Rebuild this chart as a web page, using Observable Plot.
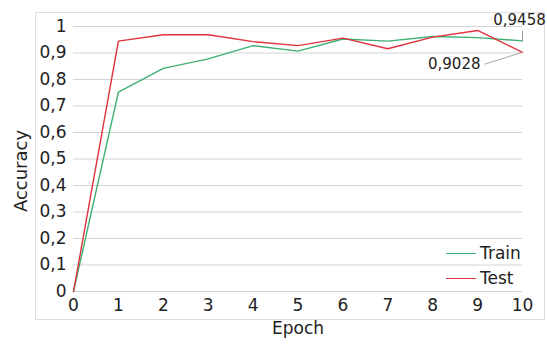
<!DOCTYPE html>
<html><head><meta charset="utf-8">
<script src="https://cdn.jsdelivr.net/npm/d3@7"></script>
<script src="https://cdn.jsdelivr.net/npm/@observablehq/plot@0.6"></script>
<style>
body{margin:0;background:#fff;font-family:"DejaVu Sans",sans-serif;}
#wrap{position:relative;width:547px;height:345px;}
.leg{position:absolute;left:446px;font-size:17px;color:#222;display:flex;align-items:center;}
.leg span.sw{display:inline-block;width:30px;height:0;border-top:1.5px solid;margin-right:4px;}
</style></head>
<body><div id="wrap"></div>
<script>
const epochs = [0,1,2,3,4,5,6,7,8,9,10];
const train = [0,0.752,0.842,0.878,0.928,0.907,0.953,0.945,0.962,0.958,0.9458];
const test  = [0,0.945,0.969,0.969,0.943,0.928,0.956,0.916,0.960,0.985,0.9028];
const yTicks = [0,0.1,0.2,0.3,0.4,0.5,0.6,0.7,0.8,0.9,1];
const xTicks = epochs;
const seriesNames = ["Train","Test"];
const colors = {Train:"#3daf72", Test:"#e0323c"};

const data = [];
epochs.forEach((e,i)=>{data.push({epoch:e,acc:train[i],s:"Train"});data.push({epoch:e,acc:test[i],s:"Test"});});
const fmt = d => String(+d.toFixed(4)).replace(".", ",");
const lastTrain = [{epoch:epochs[10], acc:train[10]}];
const lastTest = [{epoch:epochs[10], acc:test[10]}];
const pxY = 1/265, pxX = 10/449;

const chart = Plot.plot({
  width:547, height:345,
  marginLeft:73, marginRight:25, marginTop:26, marginBottom:54,
  style:{fontFamily:"DejaVu Sans, sans-serif", fontSize:"17px", color:"#222", background:"#fff"},
  x:{domain:[0,10], ticks:xTicks, tickSize:0, tickPadding:8, label:null, tickFormat:d=>String(d)},
  y:{domain:[0,1], ticks:yTicks, tickSize:0, tickPadding:7, label:null, tickFormat:fmt},
  marks:[
    Plot.frame({stroke:"#dcdcdc", insetLeft:-38, insetTop:-14, insetRight:-22, insetBottom:-28}),
    Plot.gridY(yTicks,{stroke:"#d4d4d4", strokeOpacity:1, strokeWidth:1.2}),
    Plot.axisY({ticks:yTicks, tickSize:0, tickPadding:7, tickFormat:fmt, label:null, fontSize:17}),
    Plot.axisX({ticks:xTicks, tickSize:0, tickPadding:7, label:null, fontSize:17}),
    Plot.line(data,{x:"epoch", y:"acc", z:"s", stroke:d=>colors[d.s], strokeWidth:1.4}),
    Plot.link(lastTrain,{x1:"epoch", y1:"acc", x2:"epoch", y2:d=>d.acc+10*pxY, stroke:"#999", strokeWidth:1}),
    Plot.text(lastTrain,{x:"epoch", y:"acc", text:d=>fmt(d.acc), dy:-21, dx:-3, fontSize:15, fill:"#222"}),
    Plot.link(lastTest,{x1:"epoch", y1:"acc", x2:d=>d.epoch-38*pxX, y2:d=>d.acc-12*pxY, stroke:"#aaa", strokeWidth:1}),
    Plot.text(lastTest,{x:"epoch", y:"acc", text:d=>fmt(d.acc), dy:12, dx:-42, textAnchor:"end", fontSize:15, fill:"#222"}),
    Plot.text(["Epoch"],{frameAnchor:"bottom", dy:42, text:d=>d, fontSize:17, fill:"#222"}),
    Plot.text(["Accuracy"],{frameAnchor:"left", textAnchor:"middle", dx:-52, dy:12, rotate:-90, text:d=>d, fontSize:18, fill:"#222"})
  ]
});
const wrap = document.getElementById("wrap");
wrap.appendChild(chart);
seriesNames.forEach((n,i)=>{
  const div = document.createElement("div");
  div.className="leg";
  div.style.top = (243 + i*25) + "px";
  div.innerHTML = `<span class="sw" style="border-color:${colors[n]}"></span>${n}`;
  wrap.appendChild(div);
});
</script></body></html>
